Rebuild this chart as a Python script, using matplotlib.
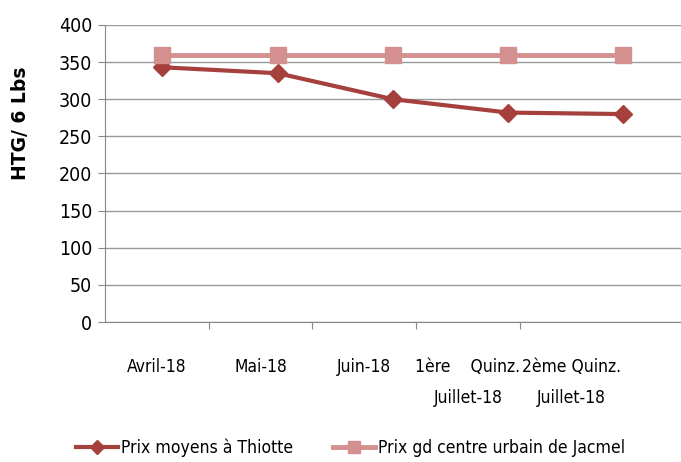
import numpy as np
import matplotlib
matplotlib.use("Agg")
import matplotlib.pyplot as plt

# data
categories = ["Avril-18", "Mai-18", "Juin-18",
              "1ère    Quinz.\nJuillet-18", "2ème Quinz.\nJuillet-18"]
thiotte = [343, 335, 300, 282, 280]
jacmel = [360, 360, 360, 360, 360]
yticks = [0, 50, 100, 150, 200, 250, 300, 350, 400]

plt.rcParams['font.family'] = ['DejaVu Sans']
plt.rcParams['font.stretch'] = 'condensed'

fig = plt.figure(figsize=(6.81, 4.62), dpi=100)
ax = fig.add_axes([0.154, 0.303, 0.846, 0.643])

x = np.arange(len(categories))
ax.plot(x, thiotte, color='#A5403D', lw=3, marker='D', ms=9,
        label='Prix moyens à Thiotte', zorder=3)
ax.plot(x, jacmel, color='#D4908F', lw=3.5, marker='s', ms=11,
        label='Prix gd centre urbain de Jacmel', zorder=3)

ax.set_xlim(-0.5, 4.5)
ax.set_ylim(0, 400)
ax.set_yticks(yticks)
ax.tick_params(axis='y', labelsize=14, length=5, color='#888888', pad=4)
ax.grid(axis='y', color='#999999', lw=1)
ax.set_axisbelow(True)

# category slots in the reference are narrower than the point spacing
slot = 0.9
ax.set_xticks(-0.5 + slot * np.arange(1, 5))
ax.set_xticklabels([])
ax.set_xticks(-0.5 + slot * (np.arange(len(categories)) + 0.5), minor=True)
ax.set_xticklabels(categories, minor=True, fontsize=12.5, linespacing=1.9,
                   va='top')
ax.tick_params(axis='x', which='major', length=5, color='#888888')
ax.tick_params(axis='x', which='minor', length=0, pad=26)

for s in ['top', 'right']:
    ax.spines[s].set_visible(False)
for s in ['left', 'bottom']:
    ax.spines[s].set_color('#888888')

ax.set_ylabel('HTG/ 6 Lbs', fontsize=13.5, fontweight='bold',
              fontstretch='normal')
ax.yaxis.set_label_coords(-0.13, 0.67)

fig.legend(loc='center left', bbox_to_anchor=(0.112, 0.03), ncol=2,
           frameon=False, fontsize=12.6, handlelength=2.4, columnspacing=2.3,
           handletextpad=0.15, markerscale=0.75, borderaxespad=0,
           borderpad=0)

fig.savefig('out.png', dpi=100)
